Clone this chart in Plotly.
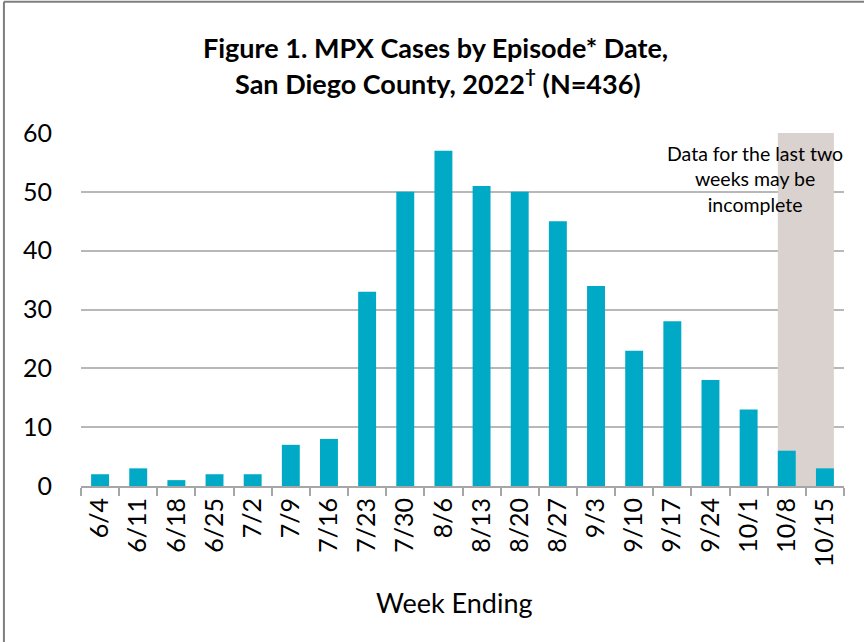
import plotly.graph_objects as go

weeks = ["6/4", "6/11", "6/18", "6/25", "7/2", "7/9", "7/16", "7/23", "7/30", "8/6",
         "8/13", "8/20", "8/27", "9/3", "9/10", "9/17", "9/24", "10/1", "10/8", "10/15"]
cases = [2, 3, 1, 2, 2, 7, 8, 33, 50, 57, 51, 50, 45, 34, 23, 28, 18, 13, 6, 3]
incomplete_weeks = ["10/8", "10/15"]
y_ticks = [0, 10, 20, 30, 40, 50, 60]

FONT = "Lato"
BAR_COLOR = "#00AAC7"
SHADE_COLOR = "#DAD2CE"
BAR_WIDTH = 0.47

fig = go.Figure()
fig.add_trace(go.Bar(x=weeks, y=cases, marker=dict(color=BAR_COLOR, line=dict(width=0)),
                     width=BAR_WIDTH))

i0 = weeks.index(incomplete_weeks[0])
i1 = weeks.index(incomplete_weeks[-1])
fig.add_shape(type="rect", xref="x", yref="y",
              x0=i0 - BAR_WIDTH / 2, x1=i1 + BAR_WIDTH / 2, y0=0, y1=max(y_ticks),
              fillcolor=SHADE_COLOR, line=dict(width=0), layer="between")

# outer frame (left and top edges visible)
fig.add_shape(type="line", xref="paper", yref="paper", x0=-0.101, x1=-0.101, y0=-0.5, y1=1.372,
              line=dict(color="#7F7F7F", width=2))
fig.add_shape(type="line", xref="paper", yref="paper", x0=-0.101, x1=1.1, y0=1.372, y1=1.372,
              line=dict(color="#7F7F7F", width=2))

# title lines
fig.add_annotation(xref="paper", yref="paper", x=0.464, y=1.2436, xanchor="center", yanchor="middle",
                   text="<b>Figure 1. MPX Cases by Episode* Date,</b>", showarrow=False,
                   font=dict(family=FONT, size=27, color="#000000"))
fig.add_annotation(xref="paper", yref="paper", x=0.468, y=1.145, xanchor="center", yanchor="middle",
                   text="<b>San Diego County, 2022<sup>†</sup> (N=436)</b>", showarrow=False,
                   font=dict(family=FONT, size=27, color="#000000"))

fig.add_annotation(xref="paper", yref="paper", x=0.883, y=0.98, xanchor="center", yanchor="top",
                   text="Data for the last two<br>weeks may be<br>incomplete", showarrow=False,
                   align="center", font=dict(family=FONT, size=19.5, color="#000000"))

# x-axis title
fig.add_annotation(xref="paper", yref="paper", x=0.49, y=-0.331, xanchor="center", yanchor="middle",
                   text="Week Ending", showarrow=False,
                   font=dict(family=FONT, size=27, color="#000000"))

fig.update_layout(
    width=864, height=642,
    margin=dict(l=81, r=20, t=133, b=156),
    paper_bgcolor="white", plot_bgcolor="white",
    showlegend=False,
    font=dict(family=FONT, color="#000000"),
    xaxis=dict(type="category", tickangle=-90, tickfont=dict(size=25), automargin=False,
               ticks="outside", tickson="boundaries", ticklen=8, tickcolor="#A6A6A6", tickwidth=2,
               showline=True, linecolor="#A6A6A6", linewidth=2, showgrid=False,
               range=[-0.5, len(weeks) - 0.5]),
    yaxis=dict(range=[0, max(y_ticks)], tickvals=y_ticks, tickfont=dict(size=25), automargin=False,
               showgrid=True, gridcolor="#B8B8B8", gridwidth=2, zeroline=False,
               showline=False, ticks="", ticklabelstandoff=28),
)

fig.write_html("out.html", config={"displayModeBar": False},
               post_script="document.body.style.margin='0px';document.body.style.overflow='hidden';")
